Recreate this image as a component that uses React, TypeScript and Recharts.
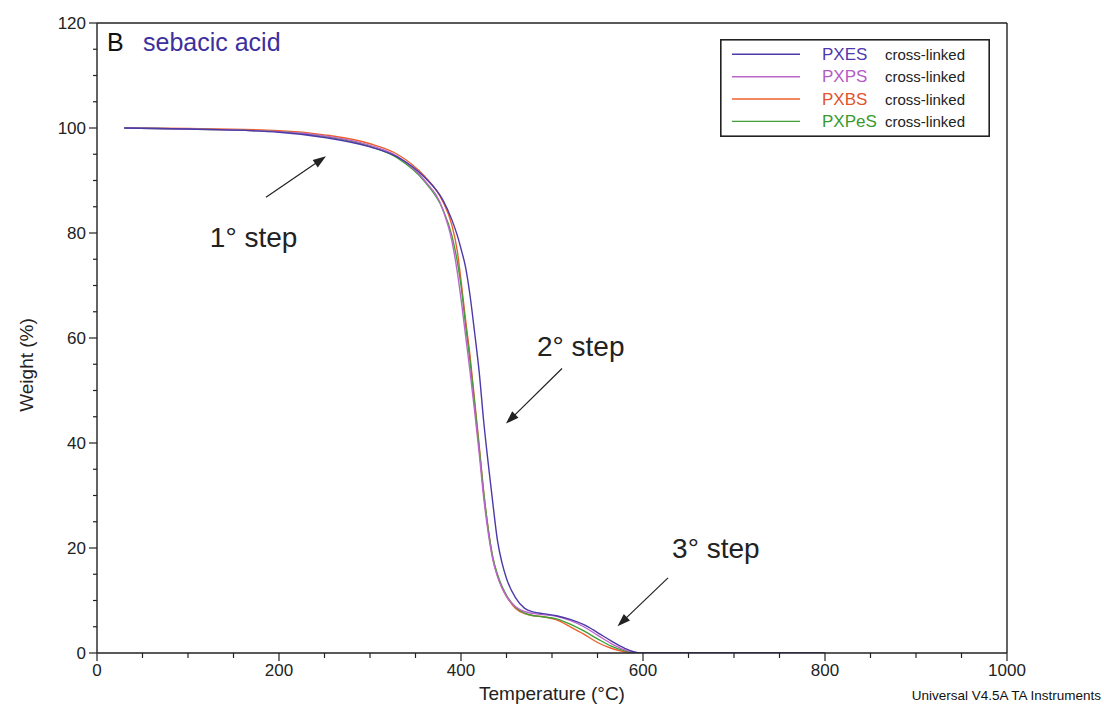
import React from 'react';
import {
  LineChart,
  Line,
  XAxis,
  YAxis,
  ReferenceLine,
  ReferenceDot,
  Legend,
} from 'recharts';

// Thermogravimetric curves of the sebacic-acid based cross-linked polyesters
const TEMPERATURE = [
  30, 100, 200, 250, 300, 330, 360, 380, 390, 396, 400, 405, 410, 415, 420, 425,
  430, 435, 440, 445, 450, 460, 470, 480, 490, 505, 520, 535, 550, 565, 580, 593,
  600, 800,
];

const PXES_WEIGHT = [
  100, 99.8, 99.2, 98.2, 96.4, 94.5, 90.6, 86.3, 82.5, 79.5, 77, 73.5, 68, 61, 53.5, 44,
  36, 28.5, 21.5, 17.2, 14.2, 10.5, 8.5, 7.8, 7.5, 7.1, 6.4, 5.4, 3.9, 2.3, 0.9, 0.1,
  0, 0,
];

const PXPS_WEIGHT = [
  100, 99.8, 99.3, 98.5, 96.7, 94.6, 90, 84.5, 78.5, 72.5, 67.5, 60.5, 53.5, 46, 38, 29.5,
  22.8, 17.8, 14.6, 12.4, 10.8, 8.8, 7.9, 7.5, 7.3, 7.0, 6.2, 5.0, 3.4, 1.8, 0.6, 0.05,
  0, 0,
];

const PXBS_WEIGHT = [
  100, 99.9, 99.5, 98.7, 97, 95, 90.8, 86, 81.5, 76.5, 71, 63.5, 56.5, 48, 39.5, 30.5,
  23.5, 18, 14.8, 12.5, 10.8, 8.5, 7.5, 7.1, 6.9, 6.3, 5.0, 3.6, 2.0, 0.9, 0.25, 0,
  0, 0,
];

const PXPES_WEIGHT = [
  100, 99.8, 99.3, 98.4, 96.5, 94.3, 89.8, 84.5, 79.5, 74.5, 70, 62.5, 55.5, 47.5, 39, 30.5,
  23.5, 18.2, 15, 12.7, 11, 8.7, 7.6, 7.1, 6.9, 6.5, 5.5, 4.2, 2.7, 1.3, 0.4, 0,
  0, 0,
];

const SERIES_KEYS = ['pxbs', 'pxpes', 'pxps', 'pxes'];
const SERIES_NAMES = ['PXES', 'PXPS', 'PXBS', 'PXPeS'];
const SERIES_SUFFIX = 'cross-linked';

const X_TICKS = [
  0, 50, 100, 150, 200, 250, 300, 350, 400, 450, 500, 550, 600, 650, 700, 750, 800,
  850, 900, 950, 1000,
];
const X_LABELED = [0, 200, 400, 600, 800, 1000];
const Y_TICKS = [
  0, 5, 10, 15, 20, 25, 30, 35, 40, 45, 50, 55, 60, 65, 70, 75, 80, 85, 90, 95, 100,
  105, 110, 115, 120,
];
const Y_LABELED = [0, 20, 40, 60, 80, 100, 120];

// Decomposition step annotations (text anchor and arrow tail -> head, in data units)
const STEP_LABELS = ['1° step', '2° step', '3° step'];
const STEP_TEXT_AT = [
  { t: 124, w: 77.3 },
  { t: 483.5, w: 56.5 },
  { t: 632, w: 18.1 },
];
const STEP_ARROWS = [
  [{ t: 185.7, w: 86.8 }, { t: 251.6, w: 94.6 }],
  [{ t: 511, w: 54.2 }, { t: 449.5, w: 43.7 }],
  [{ t: 627.5, w: 14.3 }, { t: 572, w: 5.1 }],
];

const COLORS: Record<string, string> = {
  pxes: '#4b3aa8',
  pxps: '#bb66cc',
  pxbs: '#ee5f2c',
  pxpes: '#3f9f35',
};
const NAME_COLORS = ['#5039ae', '#b45cc6', '#e2542c', '#3a9a2c'];
const NAME_KEYS = ['pxes', 'pxps', 'pxbs', 'pxpes'];

const FONT = '"Liberation Sans", Arial, Helvetica, sans-serif';
const INK = '#222';

const rows = TEMPERATURE.map((t, i) => ({
  t,
  pxes: PXES_WEIGHT[i],
  pxps: PXPS_WEIGHT[i],
  pxbs: PXBS_WEIGHT[i],
  pxpes: PXPES_WEIGHT[i],
}));

const XTick = (props: any) => {
  const { x, y, payload } = props;
  const major = X_LABELED.includes(payload.value);
  return (
    <g>
      <line x1={x} x2={x} y1={y} y2={y + (major ? 8 : 5)} stroke={INK} strokeWidth={1.2} />
      {major && (
        <text x={x} y={y + 23} textAnchor="middle" fontSize={17} fill={INK} fontFamily={FONT}>
          {payload.value}
        </text>
      )}
    </g>
  );
};

const YTick = (props: any) => {
  const { x, y, payload } = props;
  const major = Y_LABELED.includes(payload.value);
  return (
    <g>
      <line x1={x - (major ? 8 : 4)} x2={x} y1={y} y2={y} stroke={INK} strokeWidth={1.2} />
      {major && (
        <text
          x={x - 11}
          y={y}
          textAnchor="end"
          dominantBaseline="central"
          fontSize={17}
          fill={INK}
          fontFamily={FONT}
        >
          {payload.value}
        </text>
      )}
    </g>
  );
};

const XTitle = (props: any) => {
  const vb = props.viewBox || { x: 97, y: 653, width: 910 };
  return (
    <text
      x={vb.x + vb.width / 2}
      y={vb.y + 47}
      textAnchor="middle"
      fontSize={19}
      fill={INK}
      fontFamily={FONT}
    >
      Temperature (°C)
    </text>
  );
};

const YTitle = (props: any) => {
  const vb = props.viewBox || { x: 37, y: 23, height: 630 };
  const cx = 26;
  const cy = vb.y + vb.height / 2 + 27;
  return (
    <text
      x={cx}
      y={cy}
      transform={`rotate(-90 ${cx} ${cy})`}
      textAnchor="middle"
      dominantBaseline="central"
      fontSize={19}
      fill={INK}
      fontFamily={FONT}
    >
      Weight (%)
    </text>
  );
};

const Arrow = (props: any) => {
  const { x1, y1, x2, y2 } = props;
  const dx = x2 - x1;
  const dy = y2 - y1;
  const len = Math.sqrt(dx * dx + dy * dy) || 1;
  const ux = dx / len;
  const uy = dy / len;
  const head = 13;
  const half = 4.5;
  const bx = x2 - ux * head;
  const by = y2 - uy * head;
  const pts = `${x2},${y2} ${bx - uy * half},${by + ux * half} ${bx + uy * half},${by - ux * half}`;
  return (
    <g>
      <line x1={x1} y1={y1} x2={bx + ux * 2} y2={by + uy * 2} stroke={INK} strokeWidth={1.2} />
      <polygon points={pts} fill={INK} />
    </g>
  );
};

const stepText = (label: string) => (props: any) => (
  <text x={props.cx} y={props.cy} fontSize={28} fill={INK} fontFamily={FONT}>
    {label}
  </text>
);

const LegendBox = () => {
  const rowY = [15.3, 37.7, 60, 82.4];
  return (
    <svg width={270} height={98} style={{ display: 'block' }}>
      <rect x={0.8} y={0.8} width={268.4} height={96.4} fill="#fff" stroke={INK} strokeWidth={1.6} />
      {SERIES_NAMES.map((name, i) => (
        <g key={name}>
          <line
            x1={12}
            x2={80}
            y1={rowY[i]}
            y2={rowY[i]}
            stroke={COLORS[NAME_KEYS[i]]}
            strokeWidth={1.4}
          />
          <text x={102} y={rowY[i] + 5.5} fontSize={17} fill={NAME_COLORS[i]} fontFamily={FONT}>
            {name}
          </text>
          <text x={165} y={rowY[i] + 5.5} fontSize={15} fill={INK} fontFamily={FONT}>
            {SERIES_SUFFIX}
          </text>
        </g>
      ))}
    </svg>
  );
};

export default function App() {
  return (
    <div
      style={{
        position: 'absolute',
        left: 0,
        top: 0,
        width: 1104,
        height: 710,
        background: '#fff',
        fontFamily: FONT,
      }}
    >
      <LineChart
        width={1104}
        height={710}
        data={rows}
        margin={{ top: 23, right: 97, left: 37, bottom: 27 }}
      >
        <XAxis
          dataKey="t"
          type="number"
          domain={[0, 1000]}
          ticks={X_TICKS}
          interval={0}
          tickSize={0}
          tickMargin={0}
          tickLine={false}
          tick={<XTick />}
          height={30}
          axisLine={{ stroke: INK, strokeWidth: 1.4 }}
          allowDataOverflow
          label={<XTitle />}
        />
        <YAxis
          type="number"
          domain={[0, 120]}
          ticks={Y_TICKS}
          interval={0}
          tickSize={0}
          tickMargin={0}
          tickLine={false}
          tick={<YTick />}
          width={60}
          axisLine={{ stroke: INK, strokeWidth: 1.4 }}
          allowDataOverflow
          label={<YTitle />}
        />
        <ReferenceLine y={120} stroke={INK} strokeWidth={1.4} />
        <ReferenceLine x={1000} stroke={INK} strokeWidth={1.4} />
        {SERIES_KEYS.map((k) => (
          <Line
            key={k}
            dataKey={k}
            type="monotone"
            stroke={COLORS[k]}
            strokeWidth={1.4}
            dot={false}
            activeDot={false}
            isAnimationActive={false}
          />
        ))}
        {STEP_ARROWS.map((seg, i) => (
          <ReferenceLine
            key={`arrow-${i}`}
            segment={[
              { x: seg[0].t, y: seg[0].w },
              { x: seg[1].t, y: seg[1].w },
            ]}
            shape={Arrow}
          />
        ))}
        {STEP_TEXT_AT.map((p, i) => (
          <ReferenceDot
            key={`step-${i}`}
            x={p.t}
            y={p.w}
            r={0}
            shape={stepText(STEP_LABELS[i])}
          />
        ))}
        <Legend
          layout="horizontal"
          verticalAlign="middle"
          align="center"
          wrapperStyle={{ left: 720, top: 39, width: 270, height: 98 }}
          content={() => <LegendBox />}
        />
      </LineChart>
      <svg
        width={1104}
        height={710}
        style={{ position: 'absolute', left: 0, top: 0, pointerEvents: 'none' }}
      >
        <text x={107} y={51} fontSize={25} fill="#111" fontFamily={FONT}>
          B
        </text>
        <text x={143} y={51} fontSize={25} fill="#3d2f9e" fontFamily={FONT}>
          sebacic acid
        </text>
        <text x={1101} y={700} textAnchor="end" fontSize={13.5} fill="#111" fontFamily={FONT}>
          Universal V4.5A TA Instruments
        </text>
      </svg>
    </div>
  );
}
